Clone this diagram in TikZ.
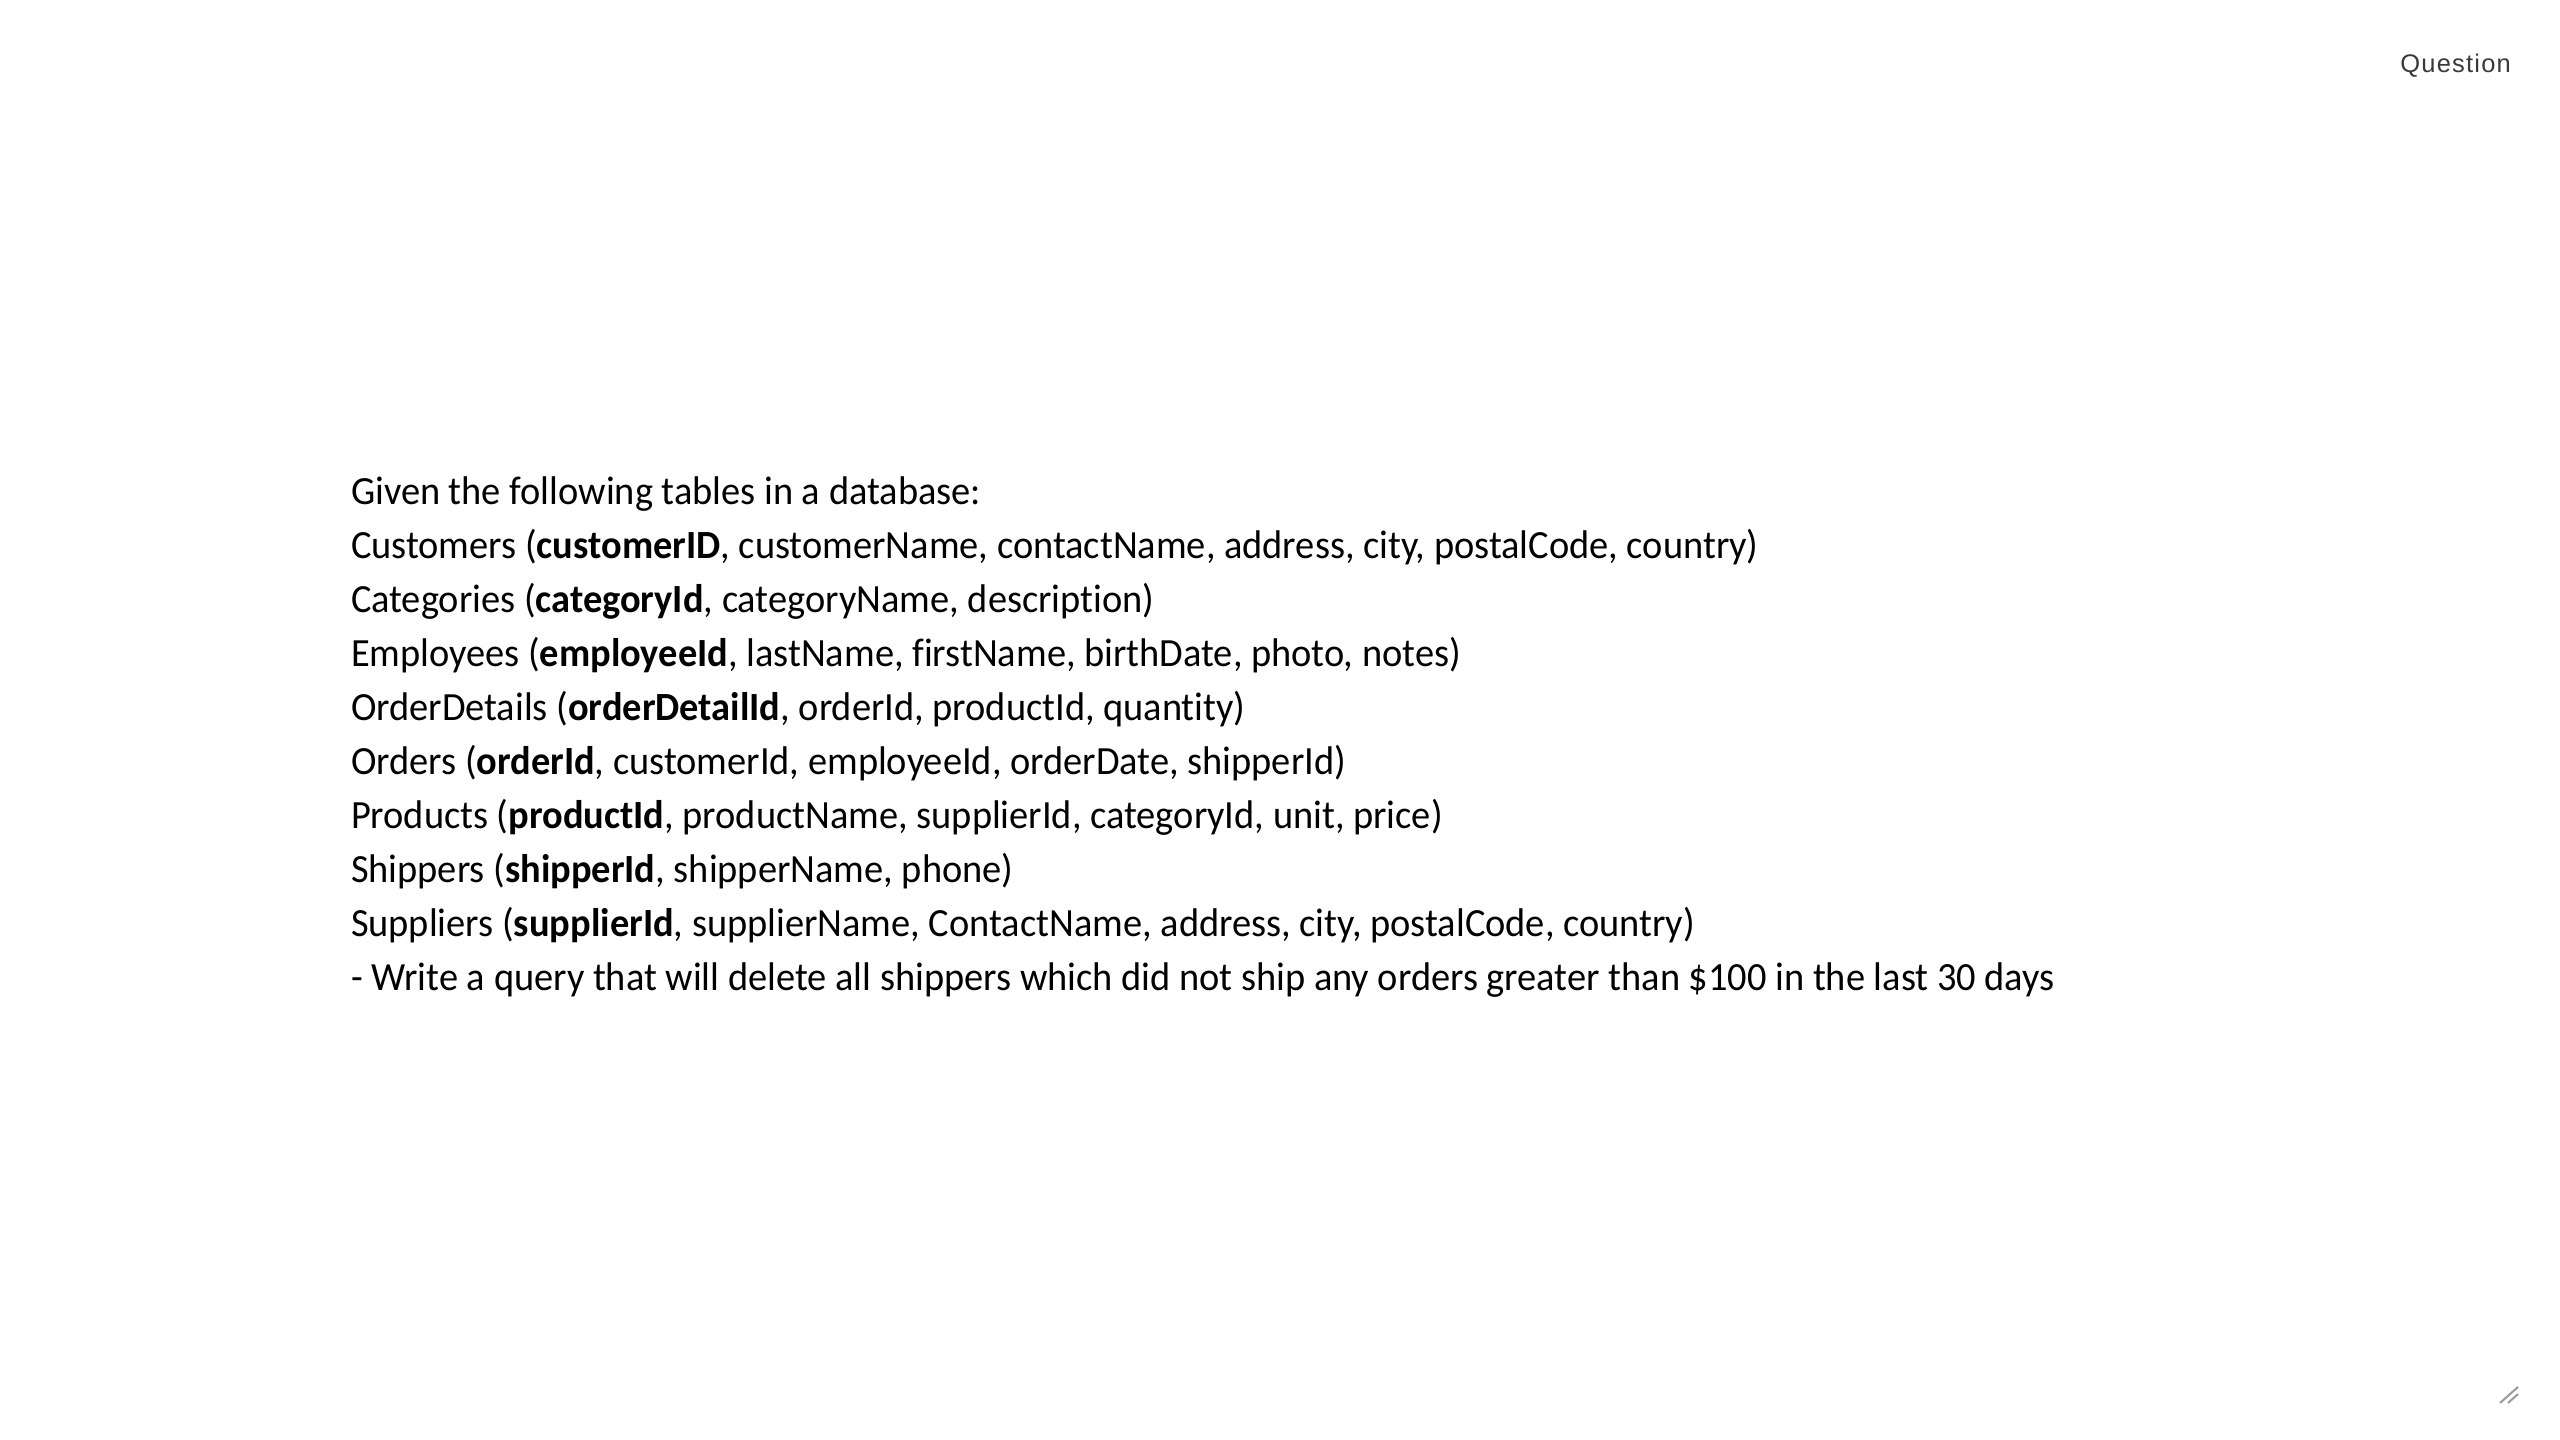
\documentclass[tikz,border=0pt]{standalone}
\usepackage{graphicx}
\usepackage{fontspec}
\setmainfont[RawFeature={-liga}]{Carlito}
\newfontfamily\qfont{Liberation Sans}
\definecolor{qgray}{HTML}{3A3A3A}
\definecolor{rgray}{HTML}{9A9A9A}
\newcommand{\sqz}[1]{\scalebox{0.96}[1]{#1}}
\newcommand{\qsp}{\kern1.2pt}
\tikzset{
  body/.style={anchor=base west, inner sep=0pt, outer sep=0pt, font=\fontsize{40}{48}\selectfont, text=black},
  qlabel/.style={anchor=base east, inner sep=0pt, font=\qfont\fontsize{25.5}{30}\selectfont, text=qgray},
  grip/.style={draw=rgray, line width=2pt}
}
\begin{document}
\begin{tikzpicture}[x=1pt,y=1pt]
\useasboundingbox (0,0) rectangle (2560,1440);
\fill[white] (0,0) rectangle (2560,1440);
\node[qlabel] (q) at (2511,1367) {Q\qsp u\qsp e\qsp s\qsp t\qsp i\qsp o\qsp n};
\node[body] (l0) at (351,935) {\sqz{Given the following tables in a database:}};
\node[body] (l1) at (351,881) {\sqz{Customers (\textbf{customerID}, customerName, contactName, address, city, postalCode, country)}};
\node[body] (l2) at (351,827) {\sqz{Categories (\textbf{categoryId}, categoryName, description)}};
\node[body] (l3) at (351,773) {\sqz{Employees (\textbf{employeeId}, lastName, firstName, birthDate, photo, notes)}};
\node[body] (l4) at (351,719) {\sqz{OrderDetails (\textbf{orderDetailId}, orderId, productId, quantity)}};
\node[body] (l5) at (351,665) {\sqz{Orders (\textbf{orderId}, customerId, employeeId, orderDate, shipperId)}};
\node[body] (l6) at (351,611) {\sqz{Products (\textbf{productId}, productName, supplierId, categoryId, unit, price)}};
\node[body] (l7) at (351,557) {\sqz{Shippers (\textbf{shipperId}, shipperName, phone)}};
\node[body] (l8) at (351,503) {\sqz{Suppliers (\textbf{supplierId}, supplierName, ContactName, address, city, postalCode, country)}};
\node[body] (l9) at (351,449) {\sqz{- Write a query that will delete all shippers which did not ship any orders greater than \$100 in the last 30 days}};
\coordinate (g1a) at (2500,37);
\coordinate (g1b) at (2518,53);
\coordinate (g2a) at (2508,37);
\coordinate (g2b) at (2518,46);
\draw[grip] (g1a) -- (g1b);
\draw[grip] (g2a) -- (g2b);
\end{tikzpicture}
\end{document}
